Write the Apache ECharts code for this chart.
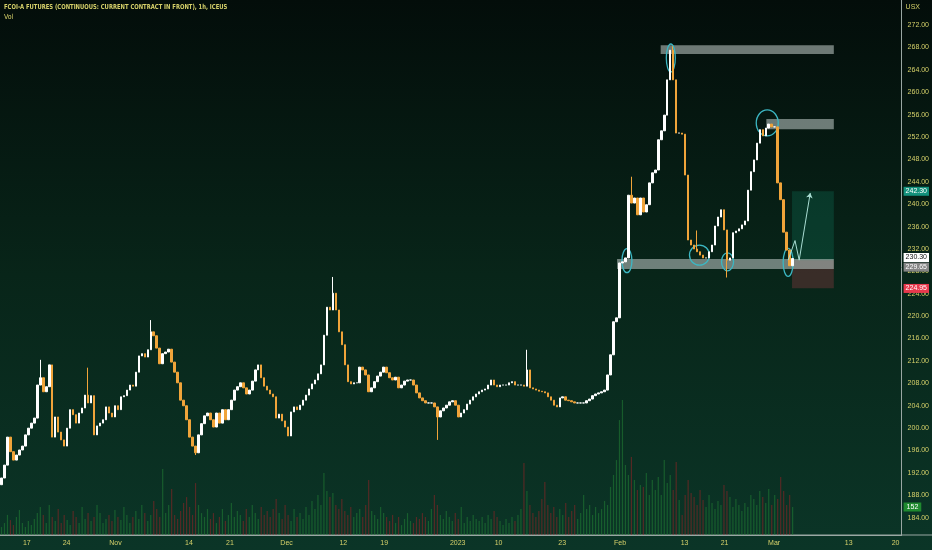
<!DOCTYPE html>
<html><head><meta charset="utf-8">
<script src="https://cdn.jsdelivr.net/npm/echarts@6/dist/echarts.min.js"></script>
<style>html,body{margin:0;padding:0;background:#061a14}#c{width:932px;height:550px}</style>
</head><body><div id="c"></div><script>
// ---- text ----
const titleText = 'FCOI-A FUTURES (CONTINUOUS: CURRENT CONTRACT IN FRONT), 1h, ICEUS';
const subTitleText = 'Vol';
const unitText = 'USX';

// ---- x axis (bar index units) ----
const xTickPos = [9, 22.3, 38.7, 63.3, 77, 96, 115, 128.7, 153.3, 167, 188.3, 207.7, 229.3, 242.7, 259.3, 284.3, 300];
const xTickLabels = ['17', '24', 'Nov', '14', '21', 'Dec', '12', '19', '2023', '10', '23', 'Feb', '13', '21', 'Mar', '13', '20'];

// ---- y axis ticks ----
const yTickValues = [184, 188, 192, 196, 200, 204, 208, 212, 216, 220, 224, 228, 232, 236, 240, 244, 248, 252, 256, 260, 264, 268, 272];

// ---- price path (successive prices, each candle goes from one to the next) ----
const pricePath = [
  189.9, 191.1, 193.4, 198.4, 195.8, 194.3, 195.2, 196.1, 196.8, 198.8,
  200.0, 200.9, 201.8, 207.7, 209.0, 206.5, 207.4, 211.3, 198.4, 202.0,
  199.3, 197.9, 196.8, 200.0, 203.3, 202.4, 200.9, 202.7, 203.6, 205.9,
  204.5, 205.8, 198.8, 200.4, 200.9, 201.5, 203.8, 202.7, 202.0, 204.0,
  203.3, 205.6, 205.8, 206.8, 207.7, 207.5, 210.0, 212.9, 213.3, 212.7,
  214.0, 217.2, 216.5, 214.3, 211.5, 213.3, 213.6, 214.1, 211.8, 210.0,
  208.1, 205.0, 204.0, 201.5, 198.4, 196.8, 195.6, 198.8, 200.8, 202.2,
  202.7, 201.5, 200.2, 202.7, 200.9, 203.3, 201.5, 203.3, 205.0, 206.8,
  207.4, 208.1, 207.2, 206.1, 206.8, 208.4, 210.4, 211.3, 209.0, 207.5,
  206.8, 206.1, 205.6, 201.8, 202.5, 201.3, 200.2, 198.6, 202.9, 203.8,
  203.3, 204.1, 205.0, 205.9, 207.0, 207.9, 208.6, 209.7, 211.3, 216.6,
  221.6, 221.1, 224.1, 221.1, 217.2, 214.9, 211.3, 208.3, 207.9, 208.1,
  208.1, 210.9, 210.4, 209.5, 206.5, 207.2, 208.3, 209.3, 210.0, 210.9,
  209.9, 209.0, 208.6, 209.1, 207.2, 207.7, 208.4, 208.6, 208.6, 207.7,
  206.3, 205.4, 204.9, 204.5, 204.5, 204.5, 203.8, 202.0, 203.1, 203.6,
  204.1, 204.7, 204.9, 204.1, 202.0, 202.7, 203.3, 204.3, 205.0, 205.6,
  206.1, 206.5, 206.8, 207.0, 207.7, 208.6, 207.7, 207.4, 207.7, 207.7,
  207.7, 208.1, 208.3, 207.7, 207.7, 207.7, 207.5, 210.4, 207.2, 207.0,
  206.8, 206.6, 206.5, 206.3, 205.6, 205.0, 204.1, 203.8, 205.4, 205.6,
  205.0, 204.9, 204.7, 204.5, 204.5, 204.5, 204.5, 204.9, 205.2, 205.8,
  206.1, 206.3, 206.5, 206.8, 209.5, 213.1, 219.0, 219.7, 229.5, 229.7,
  230.4, 241.6, 240.2, 241.1, 238.1, 241.1, 238.6, 239.9, 243.8, 245.6,
  246.1, 251.5, 253.1, 255.9, 262.2, 267.5, 262.2, 252.7, 252.7, 252.5,
  245.2, 233.6, 232.7, 232.0, 231.5, 230.9, 230.4, 230.4, 231.5, 232.7,
  236.1, 237.7, 239.0, 235.4, 230.0, 230.4, 234.9, 235.2, 235.6, 236.3,
  237.0, 242.5, 245.8, 247.9, 250.9, 253.3, 252.2, 253.6, 254.3, 253.8,
  253.8, 243.8, 240.8, 235.0, 231.8, 229.0, 230.3
];
// wick extremes: [candle index, price]
const wickExtremes = [[13, 212.2], [29, 210.8], [50, 219.3], [65, 195.2], [111, 227.0], [146, 197.9], [176, 214.0], [211, 244.9], [225, 268.2], [233, 235.3], [243, 226.9]];

// ---- volume per candle ----
const volumes = [
  43, 65, 109, 81, 54, 98, 136, 65, 43, 76,
  54, 87, 119, 152, 109, 65, 163, 98, 76, 141,
  65, 109, 81, 54, 130, 98, 65, 152, 87, 119,
  76, 98, 163, 119, 65, 87, 109, 76, 136, 98,
  81, 152, 109, 65, 98, 130, 87, 163, 119, 76,
  109, 185, 141, 98, 358, 119, 163, 250, 109, 87,
  130, 174, 206, 152, 109, 282, 163, 119, 98, 141,
  87, 119, 65, 98, 141, 76, 109, 174, 98, 130,
  109, 76, 141, 98, 163, 119, 87, 152, 109, 130,
  98, 141, 195, 119, 87, 163, 109, 76, 141, 98,
  119, 87, 152, 109, 185, 141, 217, 163, 337, 239,
  206, 228, 163, 141, 195, 130, 109, 152, 98, 119,
  141, 98, 163, 299, 130, 109, 87, 152, 119, 98,
  76, 109, 65, 98, 54, 87, 119, 76, 65, 98,
  87, 119, 98, 76, 141, 217, 163, 109, 87, 130,
  98, 76, 119, 87, 152, 65, 98, 76, 109, 87,
  76, 98, 65, 109, 87, 130, 98, 76, 54, 87,
  65, 98, 76, 109, 141, 391, 239, 163, 119, 98,
  130, 195, 288, 163, 119, 152, 98, 141, 109, 174,
  98, 130, 163, 87, 119, 217, 141, 163, 109, 152,
  119, 141, 185, 163, 261, 326, 407, 624, 733, 380,
  326, 424, 299, 244, 272, 261, 337, 217, 299, 244,
  315, 217, 407, 282, 326, 244, 396, 190, 109, 217,
  299, 228, 206, 163, 244, 190, 152, 217, 174, 141,
  185, 163, 272, 239, 206, 152, 195, 163, 130, 174,
  152, 217, 195, 163, 239, 206, 174, 250, 163, 217,
  195, 315, 239, 163, 217, 152
];

// ---- badges on the price scale ----
const priceBadges = [242.30, 230.30, 229.65, 224.95];
const volumeBadge = 152;

// ---- drawings (data coordinates: [bar index, price]) ----
const zoneBoxes = [ // [x1, x2, priceLow, priceHigh]
  [221.3, 279.3, 266.8, 268.4],
  [256.7, 279.3, 253.4, 255.2],
  [206.7, 279.3, 228.4, 230.2]
];
const positionBox = { x1: 265.3, x2: 279.3, entry: 230.0, target: 242.3, stop: 225.0 };
const circleMarks = [[224.7, 266.1], [257, 254.5], [210, 229.9], [234.3, 230.9], [243.7, 229.7], [264, 229.6]];
const projectionPath = [[264, 230.0], [266.3, 233.5], [267.7, 230.0], [271.4, 242.0]];

// ---- styles ----
const circleRadii = [[4.5, 14], [11, 13], [5, 12], [10, 10], [6, 9], [5, 14]];
const badgeBg = ['#13917c', '#ffffff', '#858585', '#e8394d'];
const badgeFg = ['#ffffff', '#111111', '#ffffff', '#ffffff'];
const badgeShift = [0, -1, 5, 0];
const textColor = '#d6d16a';
const upColor = '#ffffff', downColor = '#f0a43a';

const wickMap = {};
wickExtremes.forEach(w => { wickMap[w[0]] = w[1]; });
const candles = [];
const volData = [];
for (let k = 0; k < pricePath.length - 1; k++) {
  const o = pricePath[k], c = pricePath[k + 1];
  let lo = Math.min(o, c), hi = Math.max(o, c);
  if (wickMap[k] !== undefined) { lo = Math.min(lo, wickMap[k]); hi = Math.max(hi, wickMap[k]); }
  candles.push([k + 0.5, o, c, lo, hi]);
  volData.push({ value: [k + 0.5, volumes[k]], itemStyle: { color: c >= o ? 'rgba(34,130,52,0.55)' : 'rgba(160,34,38,0.5)' } });
}

const markAreaData = zoneBoxes.map(z => [
  { xAxis: z[0], yAxis: z[2], itemStyle: { color: 'rgba(175,186,182,0.62)' } },
  { xAxis: z[1], yAxis: z[3] }
]);
const positionAreas = [
  [{ xAxis: positionBox.x1, yAxis: positionBox.entry, itemStyle: { color: 'rgba(20,150,120,0.22)' } }, { xAxis: positionBox.x2, yAxis: positionBox.target }],
  [{ xAxis: positionBox.x1, yAxis: positionBox.stop, itemStyle: { color: 'rgba(150,60,70,0.35)' } }, { xAxis: positionBox.x2, yAxis: positionBox.entry }]
];

function nearestLabel(v) {
  let best = 0, bd = 1e9;
  xTickPos.forEach((p, i) => { const d = Math.abs(p - v); if (d < bd) { bd = d; best = i; } });
  return xTickLabels[best];
}

const chart = echarts.init(document.getElementById('c'));
chart.setOption({
  animation: false,
  backgroundColor: {
    type: 'linear', x: 0, y: 0, x2: 0, y2: 1,
    colorStops: [{ offset: 0, color: '#030d0a' }, { offset: 0.5, color: '#082519' }, { offset: 1, color: '#0b3527' }]
  },
  graphic: [
    { type: 'text', left: 4, top: 4, scaleX: 0.86, style: { text: titleText, fill: textColor, font: '600 6.8px "DejaVu Sans Condensed", sans-serif' } },
    { type: 'text', left: 4, top: 14, style: { text: subTitleText, fill: textColor, font: '7px "DejaVu Sans Condensed", sans-serif' } },
    { type: 'text', right: 12, top: 4, style: { text: unitText, fill: textColor, font: '7px sans-serif' } },
    { type: 'line', shape: { x1: 0, y1: 535, x2: 932, y2: 535 }, style: { stroke: '#9aa7a3', lineWidth: 1 }, silent: true }
  ],
  grid: { left: 0, right: 26, top: 0, bottom: 15 },
  xAxis: {
    type: 'value', min: 0, max: 302,
    axisLine: { show: true, onZero: false, lineStyle: { color: '#9aa7a3', width: 1 } },
    axisTick: { show: false }, splitLine: { show: false },
    axisLabel: { customValues: xTickPos, formatter: v => nearestLabel(v), color: textColor, fontSize: 7, margin: 5, fontFamily: 'sans-serif' }
  },
  yAxis: [
    {
      type: 'value', position: 'right', min: 180.92, max: 276.46, scale: true,
      axisLine: { show: true, onZero: false, lineStyle: { color: '#9aa7a3', width: 1 } },
      axisTick: { show: false }, splitLine: { show: false },
      axisLabel: { customValues: yTickValues, formatter: v => v.toFixed(2), color: textColor, fontSize: 7, margin: 6, fontFamily: 'sans-serif' }
    },
    { type: 'value', min: 0, max: 2905, show: false, axisLine: { show: false, onZero: false } }
  ],
  series: [
    {
      type: 'bar', xAxisIndex: 0, yAxisIndex: 1, data: volData, barWidth: 1.2, silent: true,
      markLine: {
        silent: true, symbol: 'none', lineStyle: { color: 'rgba(0,0,0,0)', width: 0 },
        label: { show: true, position: 'end', distance: 2, formatter: String(volumeBadge), backgroundColor: '#1f8a2f', color: '#ffffff', padding: [1, 3], fontSize: 7 },
        data: [{ yAxis: volumeBadge }]
      }
    },
    {
      type: 'candlestick', xAxisIndex: 0, yAxisIndex: 0, data: candles, barWidth: 2,
      encode: { x: 0, y: [1, 2, 3, 4] },
      itemStyle: { color: upColor, color0: downColor, borderColor: upColor, borderColor0: downColor, borderWidth: 1 },
      markArea: { silent: true, data: positionAreas.concat(markAreaData) },
      markLine: {
        silent: true, symbol: 'none', lineStyle: { color: 'rgba(0,0,0,0)', width: 0 },
        label: { show: true, position: 'end', distance: 2, padding: [1, 2], fontSize: 7, formatter: p => p.value.toFixed(2) },
        data: priceBadges.map((v, i) => ({ yAxis: v, label: { backgroundColor: badgeBg[i], color: badgeFg[i], offset: [0, badgeShift[i]] } }))
      }
    },
    {
      type: 'line', xAxisIndex: 0, yAxisIndex: 0, data: projectionPath, silent: true,
      lineStyle: { color: '#a9ddd3', width: 1 },
      symbol: (v, p) => p.dataIndex === projectionPath.length - 1 ? 'arrow' : 'none',
      symbolSize: [5, 5], symbolRotate: -10, symbolKeepAspect: true,
      itemStyle: { color: '#a9ddd3' }
    },
    {
      type: 'custom', xAxisIndex: 0, yAxisIndex: 0, data: circleMarks, silent: true,
      encode: { x: 0, y: 1 },
      renderItem: (params, api) => {
        const p = api.coord([api.value(0), api.value(1)]);
        const r = circleRadii[params.dataIndex];
        return { type: 'ellipse', shape: { cx: p[0], cy: p[1], rx: r[0], ry: r[1] }, style: { fill: 'none', stroke: '#3cb7c3', lineWidth: 1.3 } };
      }
    }
  ]
});
</script></body></html>
